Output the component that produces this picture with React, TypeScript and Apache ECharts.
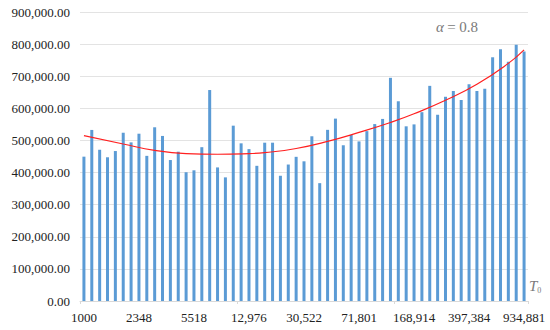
import React, { useEffect, useRef } from "react";
import * as echarts from "echarts";

const tickLabels = ["1000", "2348", "5518", "12,976", "30,522", "71,801", "168,914", "397,384", "934,881"];

const values = [
  449500, 532700, 471000, 447600, 467000, 524000, 494000, 521000, 452000, 541000,
  514000, 439000, 465000, 401000, 407000, 479000, 657000, 416000, 385000, 546000,
  491000, 473000, 421000, 493000, 493000, 390000, 425000, 449000, 435000, 513000,
  367000, 533000, 568000, 485000, 517000, 497000, 529000, 551000, 567000, 695000,
  622000, 544000, 550000, 588000, 670000, 580000, 636000, 654000, 626000, 675000,
  654000, 661000, 759000, 784000, 745000, 798000, 777000,
];

// trend curve readings: [bar index, value]
const trendIdx = [0, 5, 9, 13, 17, 21, 23, 27, 31, 35, 39, 42, 46, 50, 54, 56];
const trendVal = [515000, 489000, 469000, 459000, 457000, 459000, 462000, 475000, 497000, 525000, 556000, 583000, 625000, 675000, 740000, 782000];

const categories = values.map((_, i) => (i % 7 === 0 ? tickLabels[i / 7] : String(i)));

const FONT = "serif";

export default function App() {
  const ref = useRef<HTMLDivElement>(null);
  useEffect(() => {
    if (!ref.current) return;
    const chart = echarts.init(ref.current, undefined, { renderer: "svg" });
    chart.setOption({
      animation: false,
      textStyle: { fontFamily: FONT },
      grid: { left: 80, right: 22, top: 12, bottom: 29, containLabel: false },
      xAxis: {
        type: "category",
        data: categories,
        boundaryGap: true,
        axisLine: { show: true, lineStyle: { color: "#d9d9d9", width: 1 } },
        axisTick: { show: true, interval: 19, length: 3, lineStyle: { color: "#d9d9d9" } },
        axisLabel: {
          interval: 6,
          margin: 10,
          fontFamily: FONT,
          fontSize: 13,
          color: "#222",
          formatter: (_v: string, idx: number) => (idx % 7 === 0 ? tickLabels[idx / 7] : ""),
        },
        splitLine: { show: false },
      },
      yAxis: {
        type: "value",
        min: 0,
        max: 900000,
        interval: 100000,
        axisLine: { show: false },
        axisTick: { show: false },
        axisLabel: {
          margin: 10,
          fontFamily: FONT,
          fontSize: 13,
          color: "#222",
          formatter: (v: number) =>
            v.toLocaleString("en-US", { minimumFractionDigits: 2, maximumFractionDigits: 2 }),
        },
        splitLine: { show: true, lineStyle: { color: "#e3e3e3", width: 1 } },
      },
      series: [
        {
          type: "bar",
          data: values,
          barWidth: 3,
          itemStyle: { color: "#5B9BD5" },
          silent: true,
        },
        {
          type: "line",
          data: trendIdx.map((x, i) => [x, trendVal[i]]),
          smooth: true,
          showSymbol: false,
          symbol: "none",
          lineStyle: { color: "#ff2020", width: 1.2 },
          silent: true,
        },
      ],
      graphic: [
        {
          type: "text",
          x: 457,
          y: 27,
          style: {
            text: "{a|α} {b|= 0.8}",
            align: "center",
            verticalAlign: "middle",
            rich: {
              a: { fontFamily: FONT, fontStyle: "italic", fontSize: 15, fill: "#7a7a7a" },
              b: { fontFamily: FONT, fontSize: 15, fill: "#7a7a7a" },
            },
          },
        },
        {
          type: "text",
          x: 529,
          y: 286,
          style: {
            text: "{t|T}{s|0}",
            verticalAlign: "middle",
            rich: {
              t: { fontFamily: FONT, fontStyle: "italic", fontSize: 15, fill: "#7a7a7a" },
              s: { fontFamily: FONT, fontSize: 8, fill: "#7a7a7a", padding: [8, 0, 0, 0] },
            },
          },
        },
      ],
    });
    return () => chart.dispose();
  }, []);
  return <div ref={ref} style={{ width: 550, height: 330, position: "absolute", left: 0, top: 0 }} />;
}
